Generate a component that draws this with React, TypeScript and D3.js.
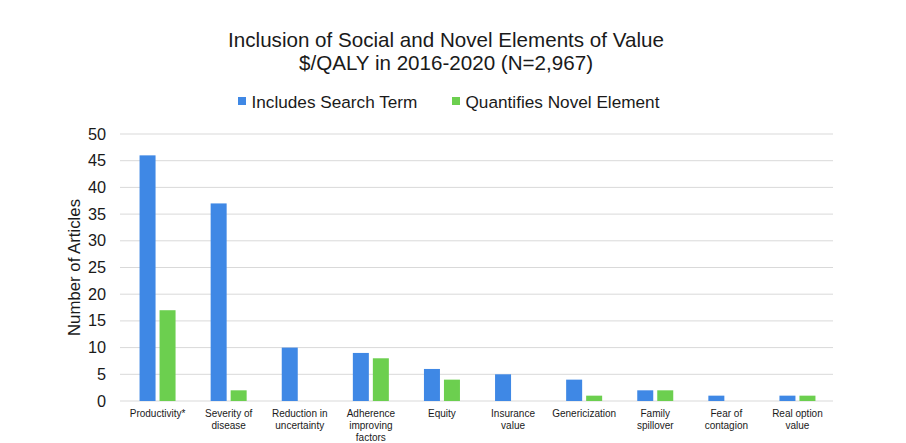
import React from "react";
import * as d3 from "d3";

const categories = [
  ["Productivity*"],
  ["Severity of", "disease"],
  ["Reduction in", "uncertainty"],
  ["Adherence", "improving", "factors"],
  ["Equity"],
  ["Insurance", "value"],
  ["Genericization"],
  ["Family", "spillover"],
  ["Fear of", "contagion"],
  ["Real option", "value"],
];
const includesSearch = [46, 37, 10, 9, 6, 5, 4, 2, 1, 1];
const quantifiesNovel = [17, 2, 0, 8, 4, 0, 1, 2, 0, 1];
const yTicks = [0, 5, 10, 15, 20, 25, 30, 35, 40, 45, 50];
const seriesNames = ["Includes Search Term", "Quantifies Novel Element"];
const colors = ["#3F88E5", "#6CCF4F"];

export default function App() {
  const W = 906, H = 443;
  const left = 120, right = 833, top = 134, bottom = 401;
  const x = d3.scaleBand<number>().domain(d3.range(categories.length)).range([122, right]);
  const y = d3.scaleLinear().domain([0, 50]).range([bottom, top]);
  const barW = 16, gap = 4;
  const font = "Liberation Sans, Arial, sans-serif";
  const legendX = [238, 452];
  return (
    <svg width={W} height={H} style={{ position: "absolute", left: 0, top: 0, background: "#fff" }} fontFamily={font}>
      <rect width={W} height={H} fill="#fff" />
      <text x={446} y={47} textAnchor="middle" fontSize={20.6} fill="#1a1a1a">Inclusion of Social and Novel Elements of Value</text>
      <text x={446} y={70} textAnchor="middle" fontSize={20.6} fill="#1a1a1a">$/QALY in 2016-2020 (N=2,967)</text>
      {seriesNames.map((s, i) => (
        <g key={s}>
          <rect x={legendX[i]} y={97} width={8} height={8} fill={colors[i]} />
          <text x={legendX[i] + 13.5} y={107.5} fontSize={17.2} fill="#1a1a1a">{s}</text>
        </g>
      ))}
      {yTicks.map((t) => (
        <g key={t}>
          <line x1={left} x2={right} y1={y(t)} y2={y(t)} stroke="#d9d9d9" strokeWidth={1} />
          <text x={106} y={y(t) + 5.5} textAnchor="end" fontSize={16.3} fill="#1a1a1a">{t}</text>
        </g>
      ))}
      <text transform={`translate(80,${(top + bottom) / 2}) rotate(-90)`} textAnchor="middle" fontSize={16.8} fill="#1a1a1a">Number of Articles</text>
      {categories.map((c, i) => {
        const cx = (x(i) as number) + x.bandwidth() / 2;
        return (
          <g key={i}>
            {includesSearch[i] > 0 && (
              <rect x={cx - gap / 2 - barW} y={y(includesSearch[i])} width={barW} height={bottom - y(includesSearch[i])} fill={colors[0]} />
            )}
            {quantifiesNovel[i] > 0 && (
              <rect x={cx + gap / 2} y={y(quantifiesNovel[i])} width={barW} height={bottom - y(quantifiesNovel[i])} fill={colors[1]} />
            )}
            {c.map((line, j) => (
              <text key={j} x={cx} y={417 + j * 11.9} textAnchor="middle" fontSize={10} fill="#1a1a1a">{line}</text>
            ))}
          </g>
        );
      })}
    </svg>
  );
}
